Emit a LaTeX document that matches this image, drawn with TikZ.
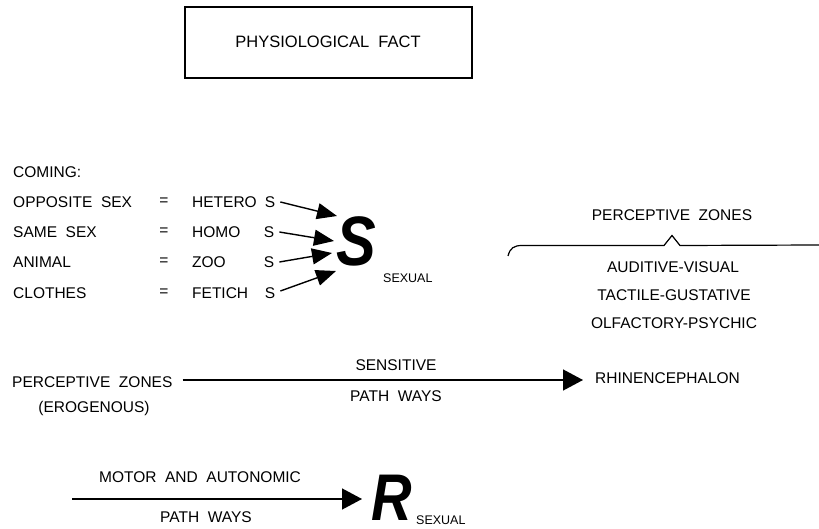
\documentclass[tikz,border=0pt]{standalone}
\usepackage{fontspec}
\setmainfont{Liberation Sans}
\usetikzlibrary{arrows.meta,calc}
\begin{document}
\begin{tikzpicture}[x=1pt,y=-1pt,
  lbl/.style={inner sep=0pt, font=\fontsize{15.5}{18}\selectfont},
  small/.style={inner sep=0pt, font=\fontsize{12.5}{15}\selectfont},
  big/.style={inner sep=0pt, xscale=0.85, font=\fontsize{70}{80}\selectfont\bfseries\itshape},
  conn/.style={line width=1.4pt},
  tri/.style={-{Triangle[length=20pt,width=16pt]}},
  bigtri/.style={-{Triangle[length=20pt,width=21pt]}},
  framebox/.style={draw, line width=1.4pt, minimum width=287pt, minimum height=71pt, inner sep=0pt}]
\useasboundingbox (0,0) rectangle (819,529);
\fill[white] (0,0) rectangle (819,529);

% title box
\node[framebox] (box) at (328.5,42.5) {};
\node[lbl, font=\fontsize{16.5}{18}\selectfont] (fact) at (328,42) {PHYSIOLOGICAL\ \ FACT};

% left column
\node[lbl, anchor=west] (coming) at (13,172) {COMING:};
\node[lbl, anchor=west] (l1) at (13,202) {OPPOSITE\ \ SEX};
\node[lbl, anchor=west] (l2) at (13,232) {SAME\ \ SEX};
\node[lbl, anchor=west] (l3) at (13,262) {ANIMAL};
\node[lbl, anchor=west] (l4) at (13,293) {CLOTHES};
\foreach \i/\y in {1/202,2/232,3/262,4/293}{
  \node[lbl] (eq\i) at (164,\y) {=};
}
\node[lbl, anchor=west] (w1) at (192,202) {HETERO};
\node[lbl, anchor=west] (w2) at (192,232) {HOMO};
\node[lbl, anchor=west] (w3) at (192,262) {ZOO};
\node[lbl, anchor=west] (w4) at (192,293) {FETICH};
\node[lbl] (s1) at (270,202) {S};
\node[lbl] (s2) at (269,232) {S};
\node[lbl] (s3) at (269,262) {S};
\node[lbl] (s4) at (270,293) {S};

% big S
\node[big] (bigS) at (356,241) {S};
\node[small, anchor=west] (sexual1) at (383,278) {SEXUAL};
\coordinate (t1) at (337,216);
\coordinate (t2) at (334,241);
\coordinate (t3) at (332,253);
\coordinate (t4) at (336,271);
\draw[conn,tri] ($(s1.east)+(5,0)$) -- (t1);
\draw[conn,tri] ($(s2.east)+(5,0)$) -- (t2);
\draw[conn,tri] ($(s3.east)+(5,0)$) -- (t3);
\draw[conn,tri] ($(s4.east)+(5,-2)$) -- (t4);

% perceptive zones brace
\node[lbl] (pz) at (672,215) {PERCEPTIVE\ \ ZONES};
\coordinate (bL) at (508,256);
\coordinate (bR) at (819,245);
\draw[line width=1.2pt] (bL) .. controls (510,248) and (514,245.5) .. (522,245.5)
  -- (664,245.5) -- (672,235.5) -- (680,245.5) -- (bR);
\node[lbl] (aud) at (673,267) {AUDITIVE-VISUAL};
\node[lbl] (tac) at (674,295) {TACTILE-GUSTATIVE};
\node[lbl] (olf) at (674,323) {OLFACTORY-PSYCHIC};

% sensitive path
\node[lbl, anchor=west] (pz2) at (12,382) {PERCEPTIVE\ \ ZONES};
\node[lbl] (ero) at (94,408) {(EROGENOUS)};
\node[lbl, anchor=west] (rhin) at (595,378) {RHINENCEPHALON};
\draw[conn,bigtri] ($(pz2.east)+(10,-2)$) -- ($(rhin.west)+(-12,2)$);
\node[lbl] (sens) at (396,365) {SENSITIVE};
\node[lbl] (pw1) at (396,396) {PATH\ \ WAYS};

% motor path
\node[lbl] (motor) at (200,477) {MOTOR\ \ AND\ \ AUTONOMIC};
\node[lbl] (pw2) at (206,517) {PATH\ \ WAYS};
\node[big, font=\fontsize{66}{72}\selectfont\bfseries\itshape] (bigR) at (392,498) {R};
\node[small, anchor=west] (sexual2) at (416,520) {SEXUAL};
\coordinate (mstart) at (72,499);
\draw[conn,bigtri] (mstart) -- (362,499);
\end{tikzpicture}
\end{document}
